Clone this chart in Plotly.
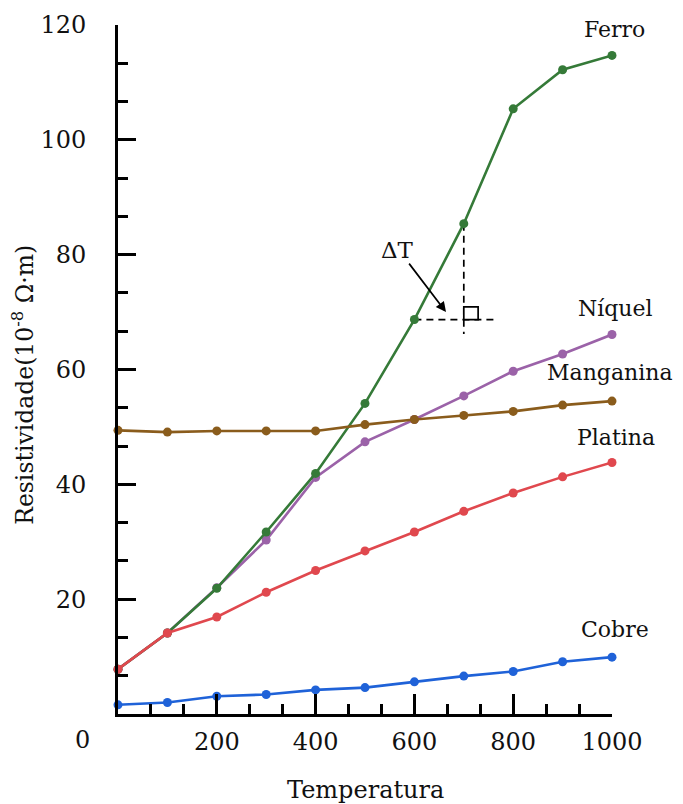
import plotly.graph_objects as go

# ---- data ----
temperatura = [0, 100, 200, 300, 400, 500, 600, 700, 800, 900, 1000]
ferro = [7.8, 14.1, 21.9, 31.7, 41.9, 54.1, 68.7, 85.4, 105.4, 112.2, 114.7]
niquel = [7.8, 14.1, 22.0, 30.3, 41.2, 47.4, 51.3, 55.4, 59.7, 62.7, 66.1]
manganina = [49.4, 49.1, 49.3, 49.3, 49.3, 50.4, 51.3, 52.0, 52.7, 53.8, 54.5]
platina = [7.8, 14.1, 16.9, 21.2, 25.0, 28.4, 31.7, 35.3, 38.5, 41.3, 43.8]
cobre = [1.6, 2.0, 3.1, 3.4, 4.2, 4.6, 5.6, 6.6, 7.4, 9.1, 9.9]

x_ticks = [200, 400, 600, 800, 1000]
y_ticks = [20, 40, 60, 80, 100, 120]

series = [
    ("Níquel", niquel, "#9b62a8"),
    ("Ferro", ferro, "#357a38"),
    ("Platina", platina, "#e0484e"),
    ("Manganina", manganina, "#8a5c1c"),
    ("Cobre", cobre, "#1f62d8"),
]

# series label positions (paper coordinates)
labels = [
    ("Ferro", 1.006, 0.994),
    ("Níquel", 1.008, 0.589),
    ("Manganina", 0.996, 0.495),
    ("Platina", 1.008, 0.402),
    ("Cobre", 1.006, 0.123),
]

FONT = "DejaVu Serif"
TXT = "#111111"

fig = go.Figure()
for name, vals, color in series:
    fig.add_trace(go.Scatter(
        x=temperatura, y=vals, mode="lines+markers", name=name,
        line=dict(color=color, width=2.6),
        marker=dict(color=color, size=9),
        cliponaxis=False, showlegend=False,
    ))

for text, lx, ly in labels:
    fig.add_annotation(x=lx, y=ly, xref="paper", yref="paper", text=text,
                       showarrow=False, font=dict(family=FONT, size=22, color=TXT),
                       xanchor="center", yanchor="middle")

# origin label
fig.add_annotation(x=-0.071, y=-0.038, xref="paper", yref="paper", text="0",
                   showarrow=False, font=dict(family=FONT, size=24, color=TXT),
                   xanchor="center", yanchor="middle")

# axis titles
fig.add_annotation(x=-0.190, y=0.478, xref="paper", yref="paper",
                   text="Resistividade(10<sup>-8</sup> Ω·m)", textangle=-90,
                   showarrow=False, font=dict(family=FONT, size=23.5, color=TXT),
                   xanchor="center", yanchor="middle")
fig.add_annotation(x=0.5, y=-0.110, xref="paper", yref="paper",
                   text="Temperatura", showarrow=False,
                   font=dict(family=FONT, size=24, color=TXT),
                   xanchor="center", yanchor="middle")

# ΔT annotation
fig.add_annotation(x=565, y=80.8, text="ΔT", showarrow=False,
                   font=dict(family=FONT, size=23, color=TXT))
fig.add_annotation(x=664, y=70.0, ax=587, ay=78.7, axref="x", ayref="y",
                   xref="x", yref="y", text="", showarrow=True,
                   arrowhead=2, arrowsize=1.2, arrowwidth=1.7, arrowcolor="black")

# dashed helper lines and square
fig.add_shape(type="line", x0=600, x1=765, y0=68.7, y1=68.7,
              line=dict(color="black", width=1.7, dash="7px,5px"), layer="below")
fig.add_shape(type="line", x0=700, x1=700, y0=85.4, y1=66.2,
              line=dict(color="black", width=1.7, dash="7px,5px"), layer="below")
fig.add_shape(type="rect", x0=700, x1=729, y0=68.7, y1=70.9,
              line=dict(color="black", width=1.7), fillcolor="white")

fig.update_layout(
    width=683, height=804,
    margin=dict(l=110, r=79, t=17, b=98),
    plot_bgcolor="white", paper_bgcolor="white",
    font=dict(family=FONT, size=24, color=TXT),
)

fig.update_xaxes(
    range=[0, 1000], showgrid=False, zeroline=False, automargin=False,
    showline=True, linecolor="black", linewidth=2.8,
    ticks="inside", ticklen=20, tickwidth=2.6, tickcolor="black",
    tickvals=x_ticks, ticklabelstandoff=4,
    tickfont=dict(family=FONT, size=24, color=TXT),
    minor=dict(ticks="inside", ticklen=10, tickwidth=2.6, tickcolor="black",
               tick0=0, dtick=200 / 3, showgrid=False),
)
fig.update_yaxes(
    range=[0, 120], showgrid=False, zeroline=False, automargin=False,
    showline=True, linecolor="black", linewidth=2.8,
    ticks="inside", ticklen=18, tickwidth=2.6, tickcolor="black",
    tickvals=y_ticks, ticklabelstandoff=24,
    tickfont=dict(family=FONT, size=24, color=TXT),
    minor=dict(ticks="inside", ticklen=10, tickwidth=2.6, tickcolor="black",
               tick0=0, dtick=20 / 3, showgrid=False),
)

fig.write_html("out.html")
